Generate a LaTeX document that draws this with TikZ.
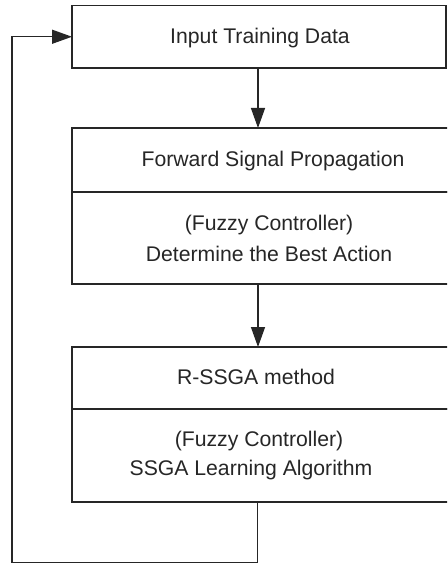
\documentclass[tikz,border=0pt]{standalone}
\usepackage{fontspec}
\setmainfont{Liberation Sans}
\usetikzlibrary{arrows.meta}
\begin{document}
\begin{tikzpicture}[x=1pt,y=-1pt,
  box/.style={draw=black!85, line width=1.4pt, rectangle, inner sep=0pt, outer sep=0pt},
  txt/.style={font=\fontsize{21.2}{24}\selectfont, text=black!85, inner sep=0pt},
  conn/.style={draw=black!85, line width=1.4pt},
  tip/.style={-{Triangle[length=20pt,width=14pt]}}]
\useasboundingbox (0,0) rectangle (447,564);
\clip (0,0) rectangle (447,564);
% boxes
\node[box, minimum width=374pt, minimum height=62.5pt] (b1) at (259,36.75) {};
\node[box, minimum width=378pt, minimum height=64pt] (b2a) at (261,160) {};
\node[box, minimum width=378pt, minimum height=92pt] (b2b) at (261,238) {};
\node[box, minimum width=378pt, minimum height=62pt] (b3a) at (261,378) {};
\node[box, minimum width=378pt, minimum height=93pt] (b3b) at (261,455.5) {};
% texts
\node[txt] (t1) at (260,38) {Input Training Data};
\node[txt] (t2) at (273,161) {Forward Signal Propagation};
\node[txt] (t3) at (269,225) {(Fuzzy Controller)};
\node[txt] (t4) at (269,254) {Determine the Best Action};
\node[txt] (t5) at (256,377) {R-SSGA method};
\node[txt] (t6) at (259,441) {(Fuzzy Controller)};
\node[txt] (t7) at (251,470) {SSGA Learning Algorithm};
% connectors
\coordinate (c1) at (257.5,562.5);
\coordinate (c2) at (12,562.5);
\draw[conn, tip] (b1.south -| 258,0) -- (258,128);
\draw[conn, tip] (b2b.south -| 258,0) -- (258,347);
\draw[conn, tip] (b3b.south -| c1) -- (c1) -- (c2) |- (b1.west);
\end{tikzpicture}
\end{document}
